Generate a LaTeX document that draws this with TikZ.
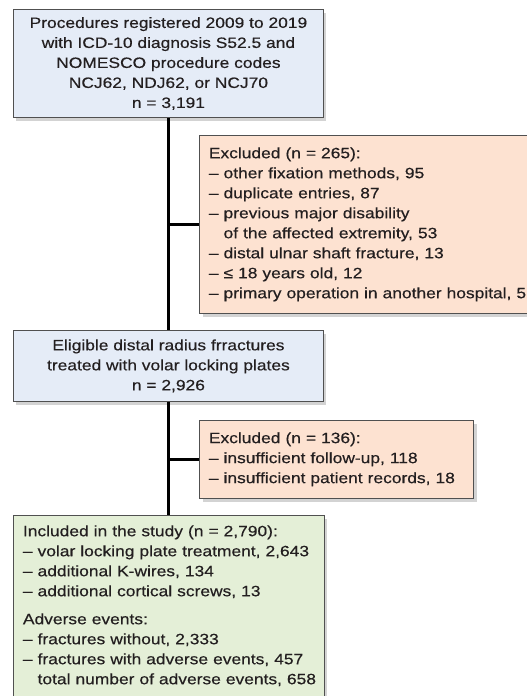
\documentclass[tikz,border=0pt]{standalone}
\usepackage{fontspec}
\setmainfont{Liberation Sans}[FakeStretch=1.16, FakeBold=0.4]
\usetikzlibrary{positioning, shadows}

\definecolor{flowblue}{RGB}{229,236,247}
\definecolor{flowpeach}{RGB}{253,226,209}
\definecolor{flowgreen}{RGB}{228,239,215}
\definecolor{flowline}{RGB}{80,80,80}
\definecolor{flowtext}{RGB}{35,31,32}

\begin{document}
\begin{tikzpicture}[
    box/.style={
        rectangle,
        draw=flowline,
        line width=0.9pt,
        inner sep=0pt,
        text=flowtext,
        font=\fontsize{15}{20}\selectfont,
        drop shadow={shadow xshift=3pt, shadow yshift=-4pt, opacity=0.35}
    },
    mainbox/.style={
        box,
        fill=flowblue,
        align=center,
        minimum width=310pt
    },
    exclbox/.style={
        box,
        fill=flowpeach,
        align=left,
        inner xsep=9pt
    },
    trunk/.style={
        line width=3pt,
        black
    }
]
\useasboundingbox (0,0) rectangle (527pt,-696pt);

% Registered procedures
\node[mainbox, minimum height=108pt, anchor=north west] (registered) at (13pt,-9pt)
    {Procedures registered 2009 to 2019\\
     with ICD-10 diagnosis S52.5 and\\
     NOMESCO procedure codes\\
     NCJ62, NDJ62, or NCJ70\\
     n = 3,191};

% First exclusion
\node[exclbox, text width=326pt, minimum height=178pt, below right=17pt and 31pt of registered.south] (excluded1)
    {Excluded (n = 265):\\
     – other fixation methods, 95\\
     – duplicate entries, 87\\
     – previous major disability\\
     \phantom{– }of the affected extremity, 53\\
     – distal ulnar shaft fracture, 13\\
     – ≤ 18 years old, 12\\
     – primary operation in another hospital, 5};

% Eligible fractures
\node[mainbox, minimum height=71pt, below=212pt of registered] (eligible)
    {Eligible distal radius frractures\\
     treated with volar locking plates\\
     n = 2,926};

% Second exclusion
\node[exclbox, text width=256pt, minimum height=78pt, below right=18pt and 31pt of eligible.south] (excluded2)
    {Excluded (n = 136):\\
     – insufficient follow-up, 118\\
     – insufficient patient records, 18};

% Included in the study
\node[box, fill=flowgreen, align=left, inner xsep=10pt, text width=291pt, minimum height=181pt, below=113pt of eligible] (included)
    {Included in the study (n = 2,790):\\
     – volar locking plate treatment, 2,643\\
     – additional K-wires, 134\\
     – additional cortical screws, 13\\[8pt]
     Adverse events:\\
     – fractures without, 2,333\\
     – fractures with adverse events, 457\\
     \mbox{\phantom{– }total number of adverse events, 658}};

% Trunk
\draw[trunk] (registered.south) -- (eligible.north);
\draw[trunk] (eligible.south) -- (included.north);

% Branches to exclusions
\draw[trunk] (excluded1.west -| registered.south) -- (excluded1.west);
\draw[trunk] (excluded2.west -| eligible.south) -- (excluded2.west);

\end{tikzpicture}
\end{document}
